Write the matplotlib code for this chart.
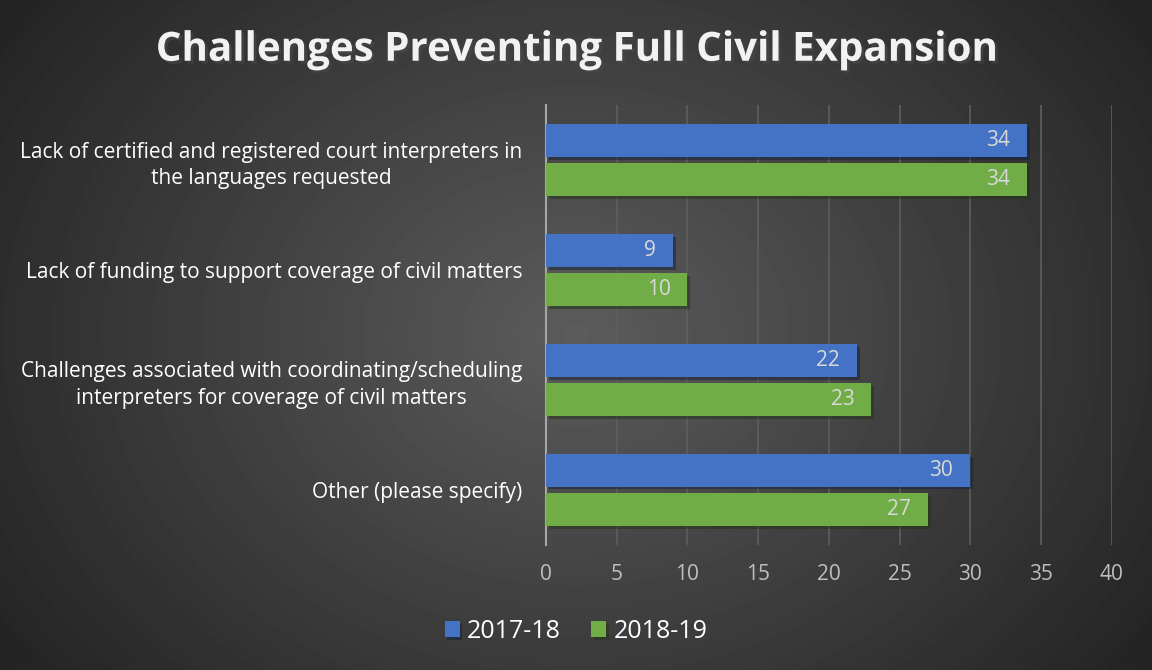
import numpy as np
import matplotlib.pyplot as plt
import matplotlib.patheffects as pe

# Data
categories = [
    'Lack of certified and registered court interpreters in\nthe languages requested',
    'Lack of funding to support coverage of civil matters',
    'Challenges associated with coordinating/scheduling\ninterpreters for coverage of civil matters',
    'Other (please specify)',
]
vals_1718 = [34, 9, 22, 30]
vals_1819 = [34, 10, 23, 27]
series_names = ['2017-18', '2018-19']
xticks = [0, 5, 10, 15, 20, 25, 30, 35, 40]

plt.rcParams['font.family'] = ['Open Sans', 'DejaVu Sans']

fig = plt.figure(figsize=(11.52, 6.70), dpi=100)

# radial gradient background
bg = fig.add_axes([0, 0, 1, 1], zorder=-10)
yy, xx = np.mgrid[0:670, 0:1152]
r = np.sqrt(((xx - 576) / 700.0) ** 2 + ((yy - 335) / 560.0) ** 2)
shade = np.clip(0.36 - 0.22 * r, 0.13, 0.36)
bg.imshow(shade, cmap='gray', vmin=0, vmax=1, aspect='auto', extent=[0, 1, 0, 1])
bg.axis('off')

ax = fig.add_axes([0.474, 0.187, 0.491, 0.656])
ax.set_facecolor('none')

y = np.arange(len(categories))
h = 0.3
gap = 0.028
blue = '#4472C4'
green = '#70AD47'
shadow = [pe.SimplePatchShadow(offset=(2, -2), alpha=0.5), pe.Normal()]
b1 = ax.barh(y - h / 2 - gap, vals_1718, height=h, color=blue, label=series_names[0],
             zorder=3, path_effects=shadow)
b2 = ax.barh(y + h / 2 + gap, vals_1819, height=h, color=green, label=series_names[1],
             zorder=3, path_effects=shadow)

for bars in (b1, b2):
    for bar in bars:
        w = bar.get_width()
        ax.text(w - 1.2, bar.get_y() + bar.get_height() / 2, f'{w:g}', ha='right',
                va='center', color='#D9D9D9', fontsize=15, zorder=4)

ax.set_xlim(0, 40)
ax.set_ylim(len(categories) - 0.5, -0.5)
ax.set_xticks(xticks)
ax.tick_params(axis='x', colors='#BFBFBF', labelsize=15, length=0, pad=14)
ax.set_yticks(y)
ax.set_yticklabels(categories, color='white', fontsize=15, ha='right',
                   multialignment='center', linespacing=1.35)
ax.tick_params(axis='y', length=0, pad=17)
ax.xaxis.grid(True, color='#5E5E5E', linewidth=1.2, zorder=0)
ax.set_axisbelow(True)
for s in ['top', 'right', 'bottom']:
    ax.spines[s].set_visible(False)
ax.spines['left'].set_color('#A6A6A6')
ax.spines['left'].set_linewidth(1.5)

fig.text(0.5, 0.925, 'Challenges Preventing Full Civil Expansion', ha='center', va='center',
         color='#F2F2F2', fontsize=29, fontweight='bold',
         path_effects=[pe.withSimplePatchShadow(offset=(2, -2), alpha=0.6)])

fig.legend(handles=[b1, b2], labels=series_names, loc='center', bbox_to_anchor=(0.5, 0.058),
           ncol=2, frameon=False, labelcolor='white', fontsize=18, handlelength=0.6,
           handleheight=0.6, handletextpad=0.3, columnspacing=1.2)

fig.savefig('out.png', dpi=100)
